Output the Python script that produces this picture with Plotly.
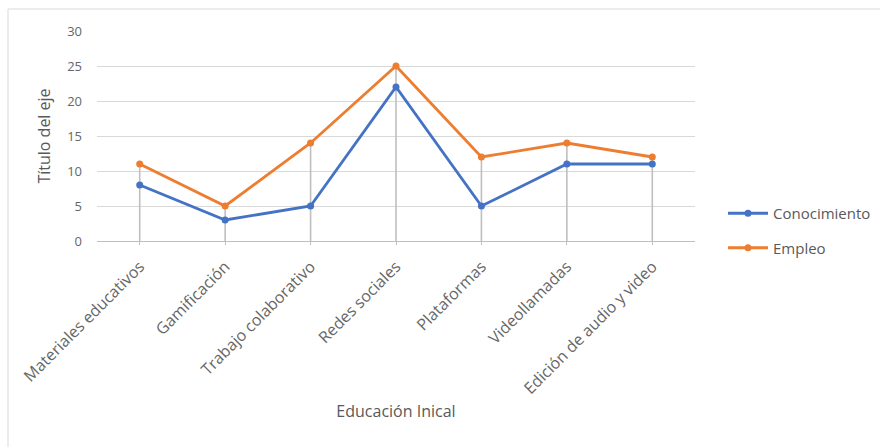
import plotly.graph_objects as go

categorias = ["Materiales educativos", "Gamificación", "Trabajo colaborativo",
              "Redes sociales", "Plataformas", "Videollamadas", "Edición de audio y video"]
conocimiento = [8, 3, 5, 22, 5, 11, 11]
empleo = [11, 5, 14, 25, 12, 14, 12]
y_ticks = [0, 5, 10, 15, 20, 25, 30]

W, H = 880, 447
L, R, T, B = 97, 695, 31, 241

maximos = [max(a, b) for a, b in zip(conocimiento, empleo)]

fig = go.Figure()
# drop lines
fig.add_trace(go.Scatter(
    x=categorias, y=maximos, mode="markers",
    marker=dict(size=1, color="rgba(0,0,0,0)"),
    error_y=dict(type="data", symmetric=False, array=[0]*len(maximos),
                 arrayminus=maximos, color="#bfbfbf", thickness=1.6, width=0),
    showlegend=False, hoverinfo="skip"))
fig.add_trace(go.Scatter(
    x=categorias, y=conocimiento, name="Conocimiento", mode="lines+markers",
    legendgroup="a",
    line=dict(color="#4472C4", width=2.8), marker=dict(size=7, color="#4472C4")))
fig.add_trace(go.Scatter(
    x=categorias, y=empleo, name="Empleo", mode="lines+markers",
    legendgroup="b",
    line=dict(color="#ED7D31", width=2.8), marker=dict(size=7, color="#ED7D31")))

def px(x):
    return (x - L) / (R - L)

def py(y):
    return (B - y) / (B - T)

fig.add_shape(type="rect", xref="paper", yref="paper",
              x0=px(8), x1=px(890), y0=py(9), y1=py(460),
              line=dict(color="#d9d9d9", width=1), layer="below")

fig.update_layout(
    width=W, height=H,
    margin=dict(l=L, r=W - R, t=T, b=H - B, autoexpand=False),
    paper_bgcolor="white", plot_bgcolor="white",
    font=dict(family="Open Sans, Calibri, sans-serif", color="#595959"),
    showlegend=True,
    legend=dict(x=px(723), y=py(197), xanchor="left", yanchor="top",
                font=dict(size=15, color="#595959"), tracegroupgap=12,
                itemwidth=40, bgcolor="rgba(0,0,0,0)"),
    xaxis=dict(type="category", range=[-0.5, len(categorias) - 0.5],
               tickangle=-45, tickfont=dict(size=16, color="#666666"),
               showgrid=False, showline=True, linecolor="#bfbfbf", linewidth=1,
               ticks="outside", ticklen=3, tickcolor="#bfbfbf", automargin=False,
               ticklabelstandoff=6,
               title=dict(text="Educación Inical", font=dict(size=16, color="#595959"),
                          standoff=8)),
    yaxis=dict(range=[0, 30], tickvals=y_ticks, tickfont=dict(size=13, color="#666666"),
               showgrid=True, gridcolor="#d9d9d9", gridwidth=1,
               zeroline=True, zerolinecolor="#bfbfbf", zerolinewidth=1,
               showline=False, ticks="", ticklabelstandoff=14, automargin=False,
               title=dict(text="Título del eje", font=dict(size=16, color="#595959"),
                          standoff=12)),
)

fig.write_html("out.html")
